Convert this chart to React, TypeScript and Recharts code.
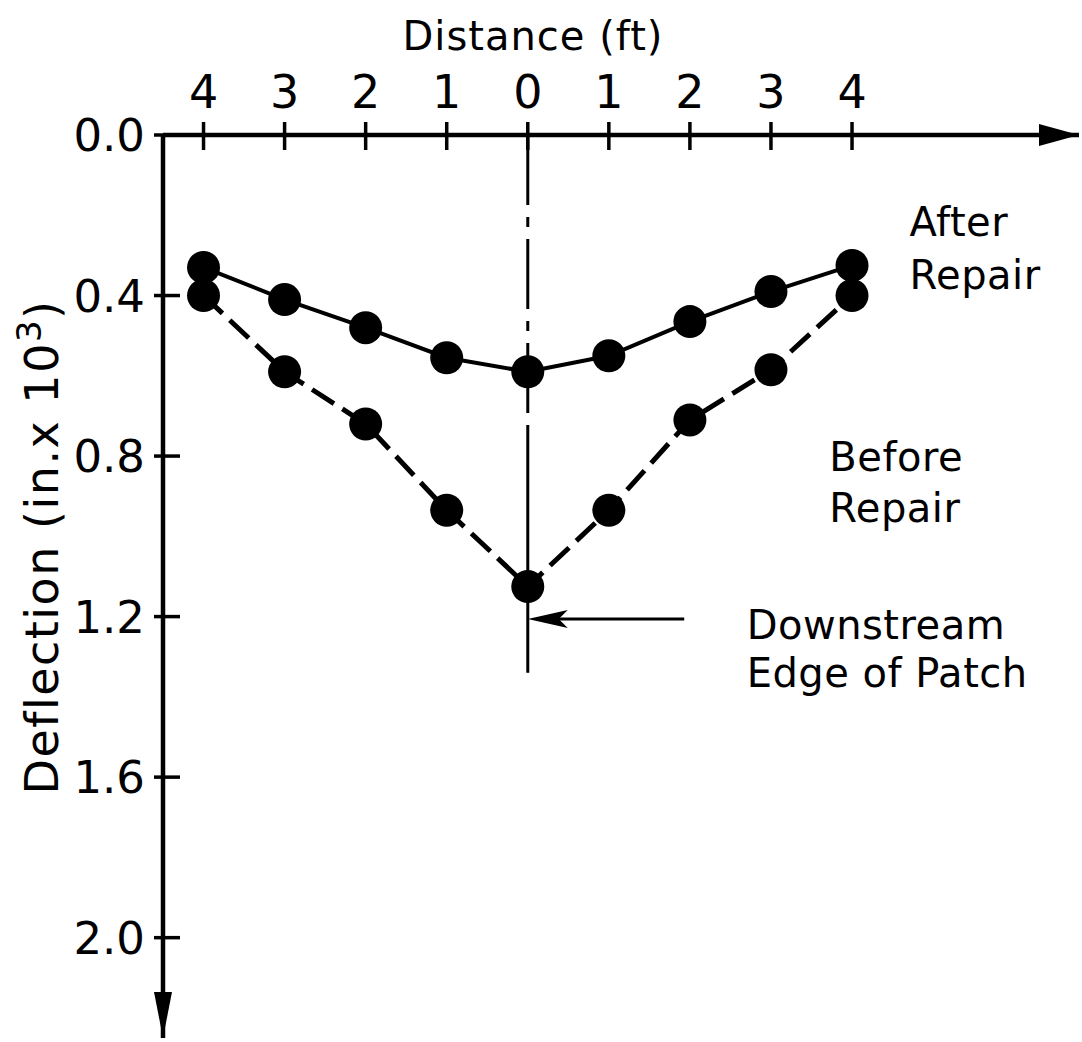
import React from "react";
import { LineChart, Line, XAxis, YAxis, ReferenceLine, ReferenceDot } from "recharts";

// distance from the patch edge (ft); negative = upstream side
const distances = [-4, -3, -2, -1, 0, 1, 2, 3, 4];
// deflection, in. x 10^3
const afterRepair = [0.33, 0.41, 0.48, 0.555, 0.59, 0.55, 0.465, 0.39, 0.325];
const beforeRepair = [0.4, 0.59, 0.72, 0.935, 1.125, 0.935, 0.71, 0.585, 0.4];

const xTicks = [-4, -3, -2, -1, 0, 1, 2, 3, 4];
const yTicks = [0, 0.4, 0.8, 1.2, 1.6, 2.0];

const notes = [
  { text: "After", d: 4.71, v: 0.251 },
  { text: "Repair", d: 4.71, v: 0.383 },
  { text: "Before", d: 3.72, v: 0.837 },
  { text: "Repair", d: 3.72, v: 0.964 },
  { text: "Downstream", d: 2.7, v: 1.256 },
  { text: "Edge of Patch", d: 2.7, v: 1.375 },
];

const rows = distances.map((d, i) => ({ d, after: afterRepair[i], before: beforeRepair[i] }));

const FONT = "'DejaVu Sans', sans-serif";
const W = 1082;
const H = 1042;
const TOP = 135; // x axis line
const LEFT = 163; // y axis line
const X_MAX = 6.8;
const Y_MAX = 2.25;

const XTick = ({ x, payload }: any) => (
  <g>
    <line x1={x} x2={x} y1={TOP - 13} y2={TOP + 15} stroke="#000" strokeWidth={3.5} />
    <text x={x} y={TOP - 27} textAnchor="middle" fontSize={46} fontFamily={FONT} fill="#000">
      {Math.abs(payload.value)}
    </text>
  </g>
);

const YTick = ({ y, payload }: any) => (
  <g>
    <line x1={LEFT - 9} x2={LEFT + 17} y1={y} y2={y} stroke="#000" strokeWidth={3.5} />
    <text x={LEFT - 18} y={y + 16} textAnchor="end" fontSize={45} fontFamily={FONT} fill="#000">
      {payload.value.toFixed(1)}
    </text>
  </g>
);

const noteShape = (text: string) => (p: any) => (
  <text x={p.cx} y={p.cy} fontSize={40} fontFamily={FONT} fill="#000" letterSpacing={0.5}>
    {text}
  </text>
);

const rightArrow = (p: any) => (
  <polygon points={`${p.cx},${p.cy} ${p.cx - 40},${p.cy - 11} ${p.cx - 40},${p.cy + 11}`} fill="#000" />
);

const downArrow = (p: any) => (
  <polygon points={`${p.cx},${p.cy} ${p.cx - 9},${p.cy - 46} ${p.cx + 9},${p.cy - 46}`} fill="#000" />
);

// leader line ending in a barbed head at (x2, y2)
const pointer = (p: any) => {
  const { x1, y1, x2, y2 } = p;
  return (
    <g>
      <line x1={x1} y1={y1} x2={x2 + 30} y2={y2} stroke="#000" strokeWidth={3} />
      <polygon
        points={`${x2},${y2} ${x2 + 40},${y2 - 9} ${x2 + 31},${y2} ${x2 + 40},${y2 + 9}`}
        fill="#000"
      />
    </g>
  );
};

export default function App() {
  return (
    <div style={{ position: "absolute", left: 0, top: 0, width: W, height: H, background: "#fff" }}>
      <LineChart width={W} height={H} data={rows} margin={{ top: 0, right: 3, bottom: 4, left: 0 }}>
        <XAxis
          type="number"
          dataKey="d"
          orientation="top"
          height={TOP}
          domain={[-4.5, X_MAX]}
          ticks={xTicks}
          allowDataOverflow
          axisLine={{ stroke: "#000", strokeWidth: 4.5 }}
          tickLine={false}
          tick={<XTick />}
          label={{
            content: () => (
              <text x={533} y={50} textAnchor="middle" fontSize={40} fontFamily={FONT} fill="#000" letterSpacing={1}>
                Distance (ft)
              </text>
            ),
          }}
        />
        <YAxis
          type="number"
          width={LEFT}
          domain={[0, Y_MAX]}
          reversed
          ticks={yTicks}
          allowDataOverflow
          axisLine={{ stroke: "#000", strokeWidth: 4.5 }}
          tickLine={false}
          tick={<YTick />}
          label={{
            content: () => (
              <text
                transform="translate(58, 547) rotate(-90)"
                textAnchor="middle"
                fontSize={46}
                fontFamily={FONT}
                fill="#000"
                letterSpacing={1.5}
              >
                Deflection (in.x 10
                <tspan fontSize={34} dy={-17}>3</tspan>
                <tspan dy={17}>)</tspan>
              </text>
            ),
          }}
        />

        {/* centre line of the patch edge: dash-dot above, solid below */}
        <ReferenceLine
          segment={[{ x: 0, y: 0 }, { x: 0, y: 0.73 }]}
          stroke="#000"
          strokeWidth={3}
          strokeDasharray="70 12 10 12"
          ifOverflow="visible"
        />
        <ReferenceLine
          segment={[{ x: 0, y: 0.73 }, { x: 0, y: 1.34 }]}
          stroke="#000"
          strokeWidth={3}
          ifOverflow="visible"
        />
        <ReferenceLine
          segment={[{ x: 1.93, y: 1.206 }, { x: 0.0, y: 1.206 }]}
          shape={pointer}
          ifOverflow="visible"
        />

        <Line
          type="linear"
          dataKey="after"
          stroke="#000"
          strokeWidth={4}
          dot={{ r: 16.5, fill: "#000", stroke: "none" }}
          activeDot={false}
          isAnimationActive={false}
        />
        <Line
          type="linear"
          dataKey="before"
          stroke="#000"
          strokeWidth={5}
          strokeDasharray="26 10"
          dot={{ r: 16.5, fill: "#000", stroke: "none", strokeDasharray: "0" }}
          activeDot={false}
          isAnimationActive={false}
        />

        {/* axis arrowheads */}
        <ReferenceDot x={X_MAX} y={0} r={0} shape={rightArrow} ifOverflow="visible" />
        <ReferenceDot x={-4.5} y={Y_MAX} r={0} shape={downArrow} ifOverflow="visible" />

        {notes.map((n, i) => (
          <ReferenceDot key={i} x={n.d} y={n.v} r={0} shape={noteShape(n.text)} ifOverflow="visible" />
        ))}
      </LineChart>
    </div>
  );
}
